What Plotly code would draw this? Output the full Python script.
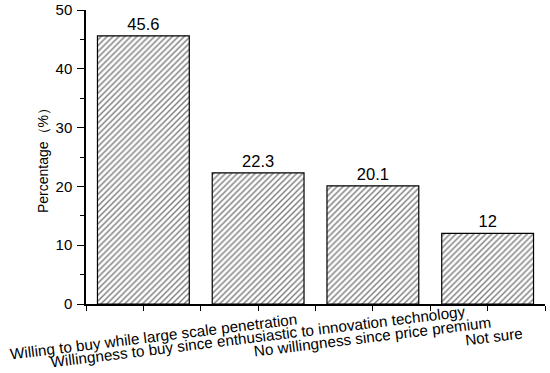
import plotly.graph_objects as go

categories = [
    "Willing to buy while large scale penetration",
    "Willingness to buy since enthusiastic to innovation technology",
    "No willingness since price premium",
    "Not sure",
]
percentages = [45.6, 22.3, 20.1, 12]
value_labels = ["45.6", "22.3", "20.1", "12"]
y_tick_values = [0, 10, 20, 30, 40, 50]
label_xshift = [10, 0, 0, 6]

positions = list(range(len(categories)))
FONT = "Liberation Sans, Arial, sans-serif"

fig = go.Figure()
fig.add_trace(go.Bar(
    x=positions,
    y=percentages,
    width=0.8,
    text=value_labels,
    textposition="outside",
    textfont=dict(size=16.5, color="black", family=FONT),
    cliponaxis=False,
    marker=dict(
        color="white",
        line=dict(color="black", width=1.2),
        pattern=dict(shape="/", fgcolor="black", bgcolor="white", size=4.2, solidity=0.35),
    ),
))

x_ticks = [p + d for p in positions for d in (-0.5, 0)] + [positions[-1] + 0.5]

fig.update_xaxes(
    range=[-0.5, len(categories) - 0.5],
    tickvals=x_ticks,
    showticklabels=False,
    ticks="outside", ticklen=5, tickcolor="black", tickwidth=1.2,
    showline=True, linecolor="black", linewidth=1.5,
    showgrid=False, zeroline=False, automargin=False,
)
fig.update_yaxes(
    range=[0, 50],
    tickvals=y_tick_values,
    ticks="outside", ticklen=7, tickcolor="black", tickwidth=1.2,
    minor=dict(dtick=5, ticks="outside", ticklen=4, tickcolor="black", tickwidth=1.2, showgrid=False),
    showline=True, linecolor="black", linewidth=1.5,
    showgrid=False, zeroline=False, automargin=False,
    tickfont=dict(size=15, color="black", family=FONT),
    ticklabelstandoff=2,
    title=dict(text="Percentage（%）", font=dict(size=14, color="black", family=FONT), standoff=4),
)

for p, cat, dx in zip(positions, categories, label_xshift):
    fig.add_annotation(
        x=p, xref="x", y=-0.11, yref="paper",
        text=cat, showarrow=False, textangle=-7,
        xanchor="center", yanchor="middle", xshift=dx,
        font=dict(size=15.3, color="black", family=FONT),
    )

fig.update_layout(
    width=550, height=373,
    margin=dict(l=86, r=5, t=10, b=69),
    paper_bgcolor="white", plot_bgcolor="white",
    showlegend=False, bargap=0.2,
)

fig.write_html("out.html", config={"displayModeBar": False},
               post_script="document.body.style.margin='0';")
